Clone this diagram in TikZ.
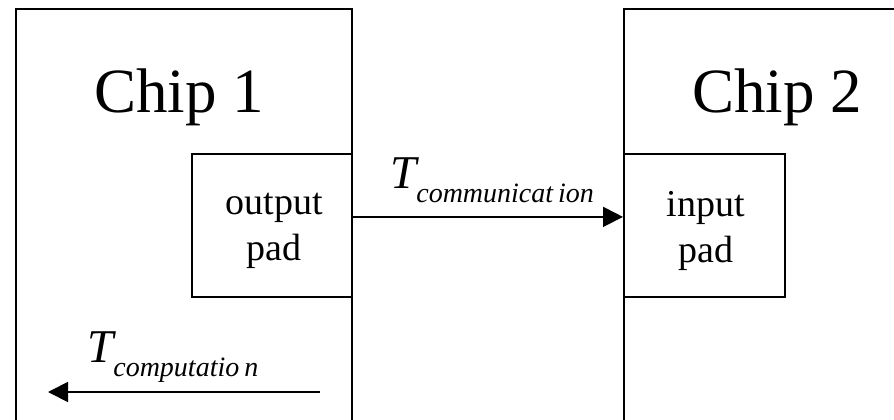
\documentclass[tikz,border=0pt]{standalone}
\usepackage{fontspec}
\setmainfont{Liberation Serif}
\usetikzlibrary{arrows.meta}

\tikzset{
  line/.style={line width=1.8pt, draw=black},
  chipbox/.style={line, rectangle, anchor=north west, inner sep=0pt},
  padbox/.style={line, rectangle, anchor=north west, inner sep=0pt, fill=white},
  chiplabel/.style={anchor=base, inner sep=0pt, font=\fontsize{63}{63}\selectfont},
  padlabel/.style={align=center, inner sep=0pt, font=\fontsize{38}{46}\selectfont},
  arr/.style={line, -{Triangle[length=20pt, width=20pt]}},
  timelabel/.style={anchor=base west, inner sep=0pt}
}

\newcommand{\timesym}[1]{{\fontsize{47}{47}\selectfont\itshape T}\raisebox{-14pt}{\fontsize{28}{28}\selectfont\itshape #1}}

\begin{document}
\begin{tikzpicture}[x=1pt, y=-1pt]
  \useasboundingbox (0,0) rectangle (894,420);
  \clip (0,0) rectangle (894,420);

  % the two chips (their bottoms run off the page)
  \node[chipbox, minimum width=336pt, minimum height=440pt] (chip1) at (15,8) {};
  \node[chipbox, minimum width=300pt, minimum height=440pt] (chip2) at (623,8) {};

  % chip titles
  \node[chiplabel] (title1) at (179,112) {Chip 1};
  \node[chiplabel] (title2) at (777,112) {Chip 2};

  % pads
  \node[padbox, minimum width=160pt, minimum height=143pt] (opad) at (191,153) {};
  \node[padbox, minimum width=161pt, minimum height=143pt] (ipad) at (623,153) {};
  \node[padlabel] (otext) at (274,231) {output\\pad};
  \node[padlabel] (itext) at (706,231) {input\\pad};

  % communication delay between the chips
  \draw[arr] ([yshift=8.5pt]opad.east) -- ([yshift=8.5pt]ipad.west);
  \node[timelabel] (tcomm) at (390,188) {\timesym{communicat\hspace{5pt}ion}};

  % computation delay inside chip 1
  \coordinate (cstart) at (320,392);
  \coordinate (cend) at (48,392);
  \draw[arr] (cstart) -- (cend);
  \node[timelabel] (tcomp) at (87,362) {\timesym{computatio\hspace{5pt}n}};
\end{tikzpicture}
\end{document}
